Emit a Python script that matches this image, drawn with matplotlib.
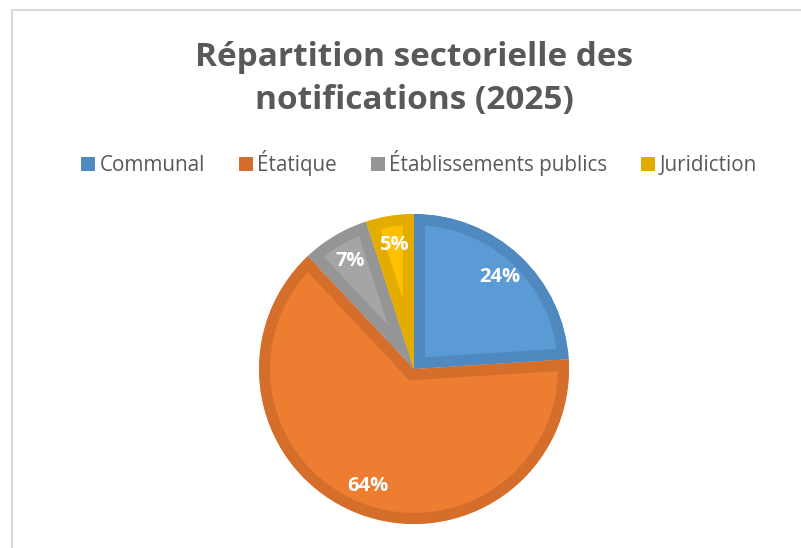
import matplotlib
matplotlib.use("Agg")
import matplotlib.pyplot as plt
from matplotlib.patches import Patch, Rectangle

# Chart data
categories = ["Communal", "Étatique", "Établissements publics", "Juridiction"]
shares = [24, 64, 7, 5]
fill_colors = ["#5B9BD5", "#ED7D31", "#A5A5A5", "#FFC000"]
edge_colors = ["#4F89C0", "#D66E2B", "#959595", "#E5AC00"]
title = "Répartition sectorielle des\nnotifications (2025)"

plt.rcParams["font.family"] = ["Open Sans", "DejaVu Sans"]

W, H = 801, 548
fig = plt.figure(figsize=(W / 100, H / 100), dpi=100)

# outer chart frame (only left/top are visible in the crop)
fig.add_artist(Rectangle((12 / W, -0.1), 1.2, 1.1 - 10 / H, transform=fig.transFigure,
                         fill=False, edgecolor="#D9D9D9", linewidth=1.5))

# pie axes: centre (414, 369) px, radius 155 px
cx, cy, r = 414, 369, 155
ax = fig.add_axes([(cx - r) / W, (H - cy - r) / H, 2 * r / W, 2 * r / H])
wedges, _, autotexts = ax.pie(
    shares, colors=fill_colors, startangle=90, counterclock=False,
    autopct="%1.0f%%", pctdistance=0.81,
    textprops=dict(color="white", fontsize=14.5, fontweight="bold"),
)
for w, ec in zip(wedges, edge_colors):
    # inner border: thick edge clipped to the wedge itself
    w.set_edgecolor(ec)
    w.set_linewidth(16)
    w.set_clip_on(True)
    w.set_clip_path(w)
ax.set_xlim(-1, 1)
ax.set_ylim(-1, 1)
ax.set_aspect("equal")
ax.axis("off")

fig.text(414 / W, 1 - 79 / H, title, ha="center", va="center", fontsize=24,
         fontweight="bold", color="#595959", linespacing=1.42)

handles = [Patch(facecolor=c, edgecolor="none") for c in edge_colors]
fig.legend(handles, categories, loc="center", bbox_to_anchor=(419 / W, 1 - 163 / H),
           ncol=4, frameon=False, fontsize=14.9, labelcolor="#595959",
           handlelength=0.68, handleheight=0.68, handletextpad=0.2, columnspacing=1.65)

fig.savefig("out.png", dpi=100)
